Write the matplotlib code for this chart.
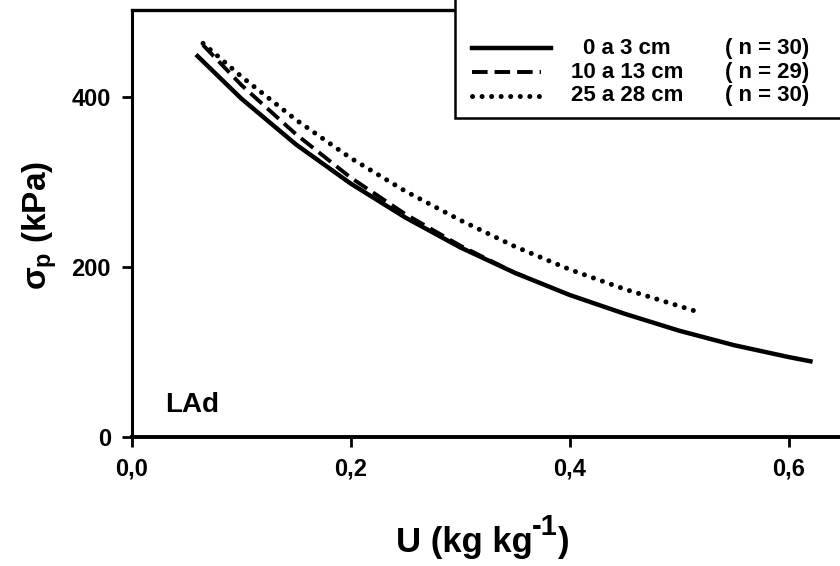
import matplotlib
matplotlib.use('Agg')
import matplotlib.pyplot as plt
from matplotlib.patches import Rectangle

plt.rcParams['font.family'] = ['Liberation Sans', 'DejaVu Sans']
plt.rcParams['font.weight'] = 'bold'
plt.rcParams['mathtext.fontset'] = 'custom'
plt.rcParams['mathtext.rm'] = 'Liberation Sans:bold'
plt.rcParams['mathtext.it'] = 'Liberation Sans:bold'
plt.rcParams['mathtext.bf'] = 'Liberation Sans:bold'

# values
u_0_3 = [0.06, 0.10, 0.15, 0.20, 0.25, 0.30, 0.35, 0.40, 0.45, 0.50, 0.55, 0.60, 0.62]
sp_0_3 = [448, 398, 344, 298, 258, 223, 193, 167, 145, 125, 108, 94, 89]

u_10_13 = [0.065, 0.10, 0.15, 0.20, 0.25, 0.30, 0.35, 0.36]
sp_10_13 = [461, 414, 356, 305, 262, 225, 193, 188]

u_25_28 = [0.065, 0.10, 0.15, 0.20, 0.25, 0.30, 0.35, 0.40, 0.45, 0.52]
sp_25_28 = [463, 424, 373, 328, 289, 255, 224, 197, 174, 146]

depths = ['0 a 3 cm', '10 a 13 cm', '25 a 28 cm']
n_labels = ['( n = 30)', '( n = 29)', '( n = 30)']

xticks = [0.0, 0.2, 0.4, 0.6]
xticklabels = ['0,0', '0,2', '0,4', '0,6']
yticks = [0, 200, 400]

fig = plt.figure(figsize=(8.4, 5.66), dpi=100)
ax = fig.add_axes([0.157, 0.228, 0.843, 0.754])

styles = [
    dict(linestyle='-', linewidth=3.2),
    dict(linestyle=(0, (4, 1.8)), linewidth=2.8),
    dict(linestyle=(0, (0.01, 1.9)), linewidth=3.6, dash_capstyle='round'),
]
series = [(u_0_3, sp_0_3), (u_10_13, sp_10_13), (u_25_28, sp_25_28)]
for (u, sp), st in zip(series, styles):
    ax.plot(u, sp, color='black', **st)

ax.set_xlim(0, 0.647)
ax.set_ylim(0, 502)
ax.set_xticks(xticks)
ax.set_xticklabels(xticklabels)
ax.set_yticks(yticks)
ax.tick_params(direction='out', length=7, width=2, labelsize=17, pad=8)
for lab in ax.get_xticklabels() + ax.get_yticklabels():
    lab.set_fontweight('bold')

ax.spines['right'].set_visible(False)
ax.spines['left'].set_linewidth(2.2)
ax.spines['top'].set_linewidth(2.4)
ax.spines['bottom'].set_linewidth(2.8)

# legend box drawn by hand
ax.add_patch(Rectangle((0.456, 0.747), 0.6, 0.3, transform=ax.transAxes,
                       facecolor='white', edgecolor='black', linewidth=1.8,
                       clip_on=False, zorder=3))
rows = [0.911, 0.855, 0.799]
ends = [0.592, 0.578, 0.578]
for y, st, end, dep, nl in zip(rows, styles, ends, depths, n_labels):
    ax.plot([0.481, end], [y, y], color='black', transform=ax.transAxes,
            zorder=4, clip_on=False, **st)
    ax.text(0.699, y, dep, transform=ax.transAxes, ha='center', va='center',
            fontsize=16, fontweight='bold', zorder=4)
    ax.text(0.838, y, nl, transform=ax.transAxes, ha='left', va='center',
            fontsize=16, fontweight='bold', zorder=4)

ax.text(0.047, 0.075, 'LAd', transform=ax.transAxes, ha='left', va='center',
        fontsize=20, fontweight='bold')

# x label with a large raised "-1", built from three pieces
base_y = 0.025
t1 = fig.text(0.472, base_y, 'U (kg kg', ha='left', va='baseline',
              fontsize=25, fontweight='bold')
fig.canvas.draw()
x_sup = t1.get_window_extent().x1 / fig.bbox.width - 0.002
t2 = fig.text(x_sup, base_y + 17 / fig.bbox.height, '-1', ha='left',
              va='baseline', fontsize=21, fontweight='bold')
fig.canvas.draw()
x_par = t2.get_window_extent().x1 / fig.bbox.width + 0.001
fig.text(x_par, base_y, ')', ha='left', va='baseline',
         fontsize=25, fontweight='bold')

fig.text(0.047, 0.602, r'$\sigma_{p}$ (kPa)', ha='center', va='center',
         rotation=90, fontsize=24, fontweight='bold')

fig.savefig('out.png', dpi=100)
